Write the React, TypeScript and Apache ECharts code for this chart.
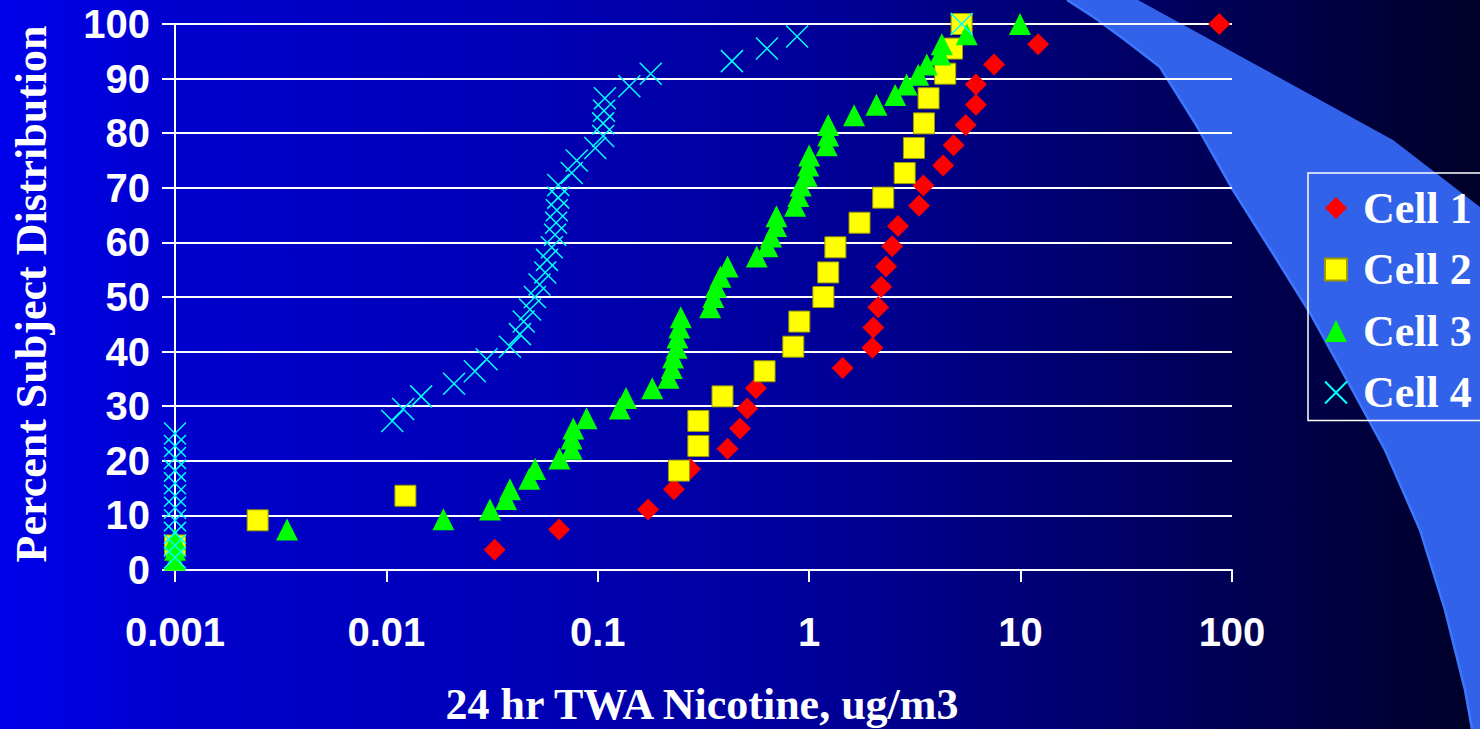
import React, { useEffect, useRef } from "react";
import * as echarts from "echarts";

const seriesNames = ["Cell 1", "Cell 2", "Cell 3", "Cell 4"];
const xTickLabels = ["0.001", "0.01", "0.1", "1", "10", "100"];
const yTickLabels = ["0", "10", "20", "30", "40", "50", "60", "70", "80", "90", "100"];
const xTitle = "24 hr TWA Nicotine, ug/m3";
const yTitle = "Percent Subject Distribution";

const cell1X = [0.0325, 0.0656, 0.173, 0.229, 0.273, 0.411, 0.471, 0.509, 0.56, 1.44, 1.99, 2.01, 2.12, 2.19, 2.31, 2.47, 2.63, 3.31, 3.47, 4.3, 4.82, 5.5, 6.15, 6.15, 7.49, 12.1, 87];
const cell1Y = [3.7, 7.4, 11.1, 14.8, 18.5, 22.2, 25.9, 29.6, 33.3, 37.0, 40.7, 44.4, 48.1, 51.9, 55.6, 59.3, 63.0, 66.7, 70.4, 74.1, 77.8, 81.5, 85.2, 88.9, 92.6, 96.3, 100];

const cell2X = [0.001, 0.00246, 0.0123, 0.242, 0.299, 0.299, 0.389, 0.615, 0.841, 0.898, 1.167, 1.23, 1.33, 1.73, 2.24, 2.83, 3.13, 3.49, 3.67, 4.4, 4.74, 5.26];
const cell2Y = [4.5, 9.1, 13.6, 18.2, 22.7, 27.3, 31.8, 36.4, 40.9, 45.5, 50.0, 54.5, 59.1, 63.6, 68.2, 72.7, 77.3, 81.8, 86.4, 90.9, 95.5, 100];

const cell3X = [0.001, 0.001, 0.001, 0.00339, 0.0186, 0.0309, 0.0368, 0.0384, 0.0474, 0.0505, 0.0658, 0.0752, 0.0752, 0.0766, 0.0885, 0.127, 0.136, 0.181, 0.216, 0.224, 0.227, 0.236, 0.238, 0.243, 0.247, 0.34, 0.352, 0.362, 0.38, 0.411, 0.565, 0.634, 0.66, 0.697, 0.7, 0.857, 0.888, 0.912, 0.973, 0.99, 1.0, 1.21, 1.23, 1.23, 1.63, 2.08, 2.55, 2.89, 3.28, 3.6, 4.16, 4.24, 5.56, 9.93];
const cell3Y = [1.9, 3.7, 5.6, 7.4, 9.3, 11.1, 13.0, 14.8, 16.7, 18.5, 20.4, 22.2, 24.1, 25.9, 27.8, 29.6, 31.5, 33.3, 35.2, 37.0, 38.9, 40.7, 42.6, 44.4, 46.3, 48.1, 50.0, 51.9, 53.7, 55.6, 57.4, 59.3, 61.1, 63.0, 64.8, 66.7, 68.5, 70.4, 72.2, 74.1, 75.9, 77.8, 79.6, 81.5, 83.3, 85.2, 87.0, 88.9, 90.7, 92.6, 94.4, 96.3, 98.1, 100];

const cell4X = [0.001, 0.001, 0.001, 0.001, 0.001, 0.001, 0.001, 0.001, 0.001, 0.001, 0.001, 0.01066, 0.012, 0.0146, 0.0209, 0.0262, 0.0298, 0.0384, 0.0428, 0.0446, 0.0478, 0.0504, 0.053, 0.0564, 0.0575, 0.0606, 0.0628, 0.0635, 0.064, 0.065, 0.065, 0.0753, 0.0795, 0.0973, 0.106, 0.106, 0.107, 0.108, 0.141, 0.178, 0.431, 0.631, 0.876, 5.26];
const cell4Y = [2.3, 4.5, 6.8, 9.1, 11.4, 13.6, 15.9, 18.2, 20.5, 22.7, 25.0, 27.3, 29.5, 31.8, 34.1, 36.4, 38.6, 40.9, 43.2, 45.5, 47.7, 50.0, 52.3, 54.5, 56.8, 59.1, 61.4, 63.6, 65.9, 68.2, 70.5, 72.7, 75.0, 77.3, 79.5, 81.8, 84.1, 86.4, 88.6, 90.9, 93.2, 95.5, 97.7, 100];

const pairs = (xs: number[], ys: number[]) => xs.map((x, i) => [x, ys[i]]);

const SERIF = "'Liberation Serif', 'Times New Roman', serif";
const SANS = "'Liberation Sans', Arial, sans-serif";
const X_PATH = "path://M0,0L20,20M20,0L0,20";

// decorative slide swoosh outline
const swooshLeftEdge = [
  [1067, 0], [1095, 18], [1125, 40], [1160, 67], [1195, 123], [1233, 190],
  [1272, 252], [1310, 313], [1348, 382], [1385, 450], [1420, 530], [1445, 610],
  [1465, 690], [1472, 729],
];
const swooshRightEdge = [[1480, 729], [1480, 207], [1393, 140], [1260, 67], [1138, 0]];

export default function App() {
  const ref = useRef<HTMLDivElement>(null);

  useEffect(() => {
    document.body.style.margin = "0";
    document.body.style.overflow = "hidden";
    const chart = echarts.init(ref.current!, null, { renderer: "svg" });

    const option: any = {
      animation: false,
      graphic: [
        {
          type: "rect",
          z: -20,
          silent: true,
          shape: { x: 0, y: 0, width: 1480, height: 729 },
          style: {
            fill: new echarts.graphic.LinearGradient(0, 0, 1, 0, [
              { offset: 0, color: "rgb(0,0,235)" },
              { offset: 0.12, color: "rgb(0,0,205)" },
              { offset: 0.37, color: "rgb(0,0,180)" },
              { offset: 0.57, color: "rgb(0,0,150)" },
              { offset: 0.75, color: "rgb(0,0,105)" },
              { offset: 0.87, color: "rgb(0,0,75)" },
              { offset: 1, color: "rgb(0,0,40)" },
            ]),
          },
        },
        {
          type: "polygon",
          z: -19,
          silent: true,
          shape: { points: [...swooshLeftEdge, ...swooshRightEdge] },
          style: { fill: "#3262EA" },
        },
        {
          type: "polyline",
          z: -18,
          silent: true,
          shape: { points: swooshLeftEdge },
          style: { stroke: "#3C78FF", lineWidth: 2.5, fill: "none" },
        },
        {
          type: "text",
          z: 10,
          x: 702,
          y: 704,
          style: {
            text: xTitle,
            fill: "#ffffff",
            font: `bold 44px ${SERIF}`,
            textAlign: "center",
            textVerticalAlign: "middle",
          },
        },
        {
          type: "text",
          z: 10,
          x: 31,
          y: 294,
          rotation: Math.PI / 2,
          style: {
            text: yTitle,
            fill: "#ffffff",
            font: `bold 44px ${SERIF}`,
            textAlign: "center",
            textVerticalAlign: "middle",
          },
        },
      ],
      grid: { left: 175, top: 24, width: 1057, height: 546, containLabel: false },
      xAxis: {
        type: "log",
        logBase: 10,
        min: 0.001,
        max: 100,
        splitNumber: 5,
        axisLine: { show: true, lineStyle: { color: "#ffffff", width: 2 } },
        axisTick: { show: true, length: 12, lineStyle: { color: "#ffffff", width: 2 } },
        minorTick: { show: false },
        splitLine: { show: false },
        axisLabel: {
          color: "#ffffff",
          fontFamily: SANS,
          fontWeight: "bold",
          fontSize: 40,
          margin: 42,
          formatter: (v: number) => xTickLabels[Math.round(Math.log10(v)) + 3],
        },
      },
      yAxis: {
        type: "value",
        min: 0,
        max: 100,
        interval: 10,
        axisLine: { show: true, lineStyle: { color: "#ffffff", width: 2 } },
        axisTick: { show: true, length: 13, lineStyle: { color: "#ffffff", width: 2 } },
        splitLine: { show: true, lineStyle: { color: "#ffffff", width: 2 } },
        axisLabel: {
          color: "#ffffff",
          fontFamily: SANS,
          fontWeight: "bold",
          fontSize: 40,
          margin: 25,
          formatter: (v: number) => yTickLabels[Math.round(v / 10)],
        },
      },
      legend: {
        orient: "vertical",
        left: 1308,
        top: 173,
        padding: [13, 10, 6, 16],
        itemWidth: 22,
        itemHeight: 22,
        itemGap: 17.5,
        borderColor: "#ffffff",
        borderWidth: 1.5,
        textStyle: {
          color: "#ffffff",
          fontFamily: SERIF,
          fontWeight: "bold",
          fontSize: 44,
          lineHeight: 44,
          padding: [0, 0, 0, 11],
        },
        data: seriesNames,
      },
      series: [
        {
          name: seriesNames[0],
          type: "scatter",
          clip: false,
          symbol: "diamond",
          symbolSize: 22,
          itemStyle: { color: "#ff0000", opacity: 1 },
          data: pairs(cell1X, cell1Y),
        },
        {
          name: seriesNames[1],
          type: "scatter",
          clip: false,
          symbol: "rect",
          symbolSize: 21,
          itemStyle: { color: "#ffff00", borderColor: "#9a9a00", borderWidth: 1, opacity: 1 },
          data: pairs(cell2X, cell2Y),
        },
        {
          name: seriesNames[2],
          type: "scatter",
          clip: false,
          symbol: "triangle",
          symbolSize: 22,
          itemStyle: { color: "#00ff00", opacity: 1 },
          data: pairs(cell3X, cell3Y),
        },
        {
          name: seriesNames[3],
          type: "scatter",
          clip: false,
          symbol: X_PATH,
          symbolSize: 22,
          itemStyle: { color: "#00ffff", borderColor: "#00ffff", borderWidth: 1.5, opacity: 1 },
          data: pairs(cell4X, cell4Y),
        },
      ],
    };

    chart.setOption(option);
    return () => chart.dispose();
  }, []);

  return <div ref={ref} style={{ width: 1480, height: 729, position: "absolute", left: 0, top: 0 }} />;
}
